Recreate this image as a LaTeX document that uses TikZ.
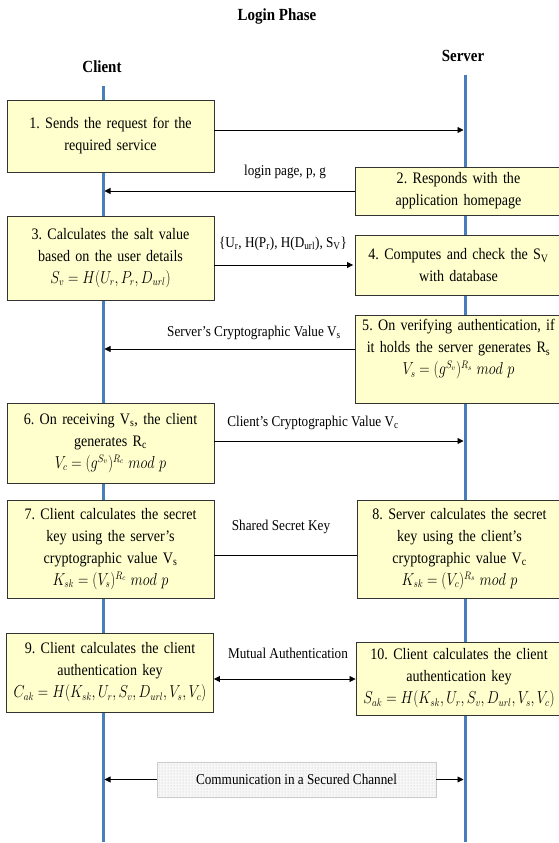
\documentclass[tikz,border=0pt]{standalone}
\usepackage{fontspec}
\setmainfont{Liberation Serif}[FakeStretch=0.88]
\usepackage{graphicx}
\usetikzlibrary{arrows.meta,patterns}

\definecolor{lifeblue}{RGB}{74,126,187}
\definecolor{stepyellow}{RGB}{255,255,206}
\newcommand{\formula}[1]{\scalebox{0.83}[1]{$#1$}}
\frenchspacing

\begin{document}
\begin{tikzpicture}[x=1pt, y=-1pt, > = {Triangle[length=6pt,width=6pt]}, shorten > = 1.5pt]
        \tikzstyle{stepbox}=[draw=black!80, line width=0.9pt, fill=stepyellow, inner xsep=1pt, inner ysep=2pt, text width=205pt, align=center, font=\fontsize{16}{22}\selectfont]
        \tikzstyle{msglabel}=[font=\fontsize{15}{18}\selectfont]
        \tikzstyle{head}=[font=\fontsize{17}{20}\selectfont\bfseries]
        \tikzstyle{lifeline}=[lifeblue, line width=3pt]
        \tikzstyle{msg}=[->, line width=0.8pt]

            \useasboundingbox (0,0) rectangle (558,843);

            % Titles
            \node[head] (title) at (277,16) {Login Phase};
            \node[head] (client) at (102,67) {Client};
            \node[head] (server) at (463,56) {Server};

            % Lifelines
            \coordinate (cltop) at (103,86);
            \coordinate (clbot) at (103,843);
            \coordinate (svtop) at (465,75);
            \coordinate (svbot) at (465,843);
            \draw[lifeline] (cltop) -- (clbot);
            \draw[lifeline] (svtop) -- (svbot);

            % Points on the lifelines
            \coordinate (s1) at (465,130);
            \coordinate (c2) at (103,191);
            \coordinate (c5) at (103,349);
            \coordinate (s6) at (465,441);
            \coordinate (m78) at (285,555);
            \coordinate (m910) at (285,679);
            \coordinate (c11) at (103,779.5);
            \coordinate (s11) at (465,779.5);

            % Steps
            \node[stepbox, minimum height=72pt] (b1) at (110.5,136) {1. Sends the request for the\\ required service};
            \node[stepbox, minimum height=48pt] (b2) at (458.5,191) {2. Responds with the\\ application homepage};
            \node[stepbox, minimum height=84pt] (b3) at (110.5,258) {3. Calculates the salt value\\ based on the user details\\ \formula{S_v = H(U_r, P_r, D_{url})}};
            \node[stepbox, minimum height=60pt] (b4) at (458.5,265) {4. Computes and check the S\textsubscript{V}\\ with database};
            \node[stepbox, minimum height=88pt] (b5) at (458.5,359) {5. On verifying authentication, if\\ it holds the server generates R\textsubscript{s}\\ \formula{V_s = (g^{S_v})^{R_s}\ mod\ p}\\[2pt] \mbox{}};
            \node[stepbox, minimum height=80pt] (b6) at (110.5,443) {6. On receiving V\textsubscript{s}, the client\\ generates R\textsubscript{c}\\ \formula{V_c = (g^{S_v})^{R_c}\ mod\ p}};
            \node[stepbox, minimum height=98pt] (b7) at (110.5,549) {7. Client calculates the secret\\ key using the server's\\ cryptographic value V\textsubscript{s}\\ \formula{K_{sk} = (V_s)^{R_c}\ mod\ p}};
            \node[stepbox, minimum height=98pt, text width=203pt] (b8) at (459.5,549) {8. Server calculates the secret\\ key using the client's\\ cryptographic value V\textsubscript{c}\\ \formula{K_{sk} = (V_c)^{R_s}\ mod\ p}};
            \node[stepbox, minimum height=79pt] (b9) at (110,672.5) {9. Client calculates the client\\ authentication key\\ \formula{C_{ak} = H(K_{sk}, U_r, S_v, D_{url}, V_s, V_c)}};
            \node[stepbox, minimum height=73pt, text width=204pt] (b10) at (459,678.5) {10. Client calculates the client\\ authentication key\\ \formula{S_{ak} = H(K_{sk}, U_r, S_v, D_{url}, V_s, V_c)}};
            \node[draw=gray!40, fill=gray!6, postaction={pattern=dots, pattern color=gray!50}, minimum width=279pt, minimum height=35pt, font=\fontsize{15}{18}\selectfont] (ch) at (296.5,779.5) {Communication in a Secured Channel};

            % Messages
            \draw[msg] (b1.east |- s1) -- (s1);
            \draw[msg] (b2.west |- c2) -- (c2);
            \draw[msg] (b3.east |- b4.west) -- (b4.west);
            \draw[msg] (b5.west |- c5) -- (c5);
            \draw[msg] (b6.east |- s6) -- (s6);
            \draw[line width=0.8pt, shorten >=0pt] (b7.east |- m78) -- (b8.west |- m78);
            \draw[msg, <->, shorten >=0pt] (b9.east |- m910) -- (b10.west |- m910);
            \draw[msg] (ch.west) -- (c11);
            \draw[msg] (ch.east) -- (s11);

            % Message labels
            \node[msglabel] (l2) at (285,172) {login page, p, g};
            \node[msglabel] (l3) at (283,244) {\{U\textsubscript{r}, H(P\textsubscript{r}), H(D\textsubscript{url}), S\textsubscript{V}\}};
            \node[msglabel] (l5) at (254,333) {Server's Cryptographic Value V\textsubscript{s}};
            \node[msglabel] (l6) at (313,423) {Client's Cryptographic Value V\textsubscript{c}};
            \node[msglabel] (l78) at (281,527) {Shared Secret Key};
            \node[msglabel] (l910) at (288,653) {Mutual Authentication};
\end{tikzpicture}
\end{document}
